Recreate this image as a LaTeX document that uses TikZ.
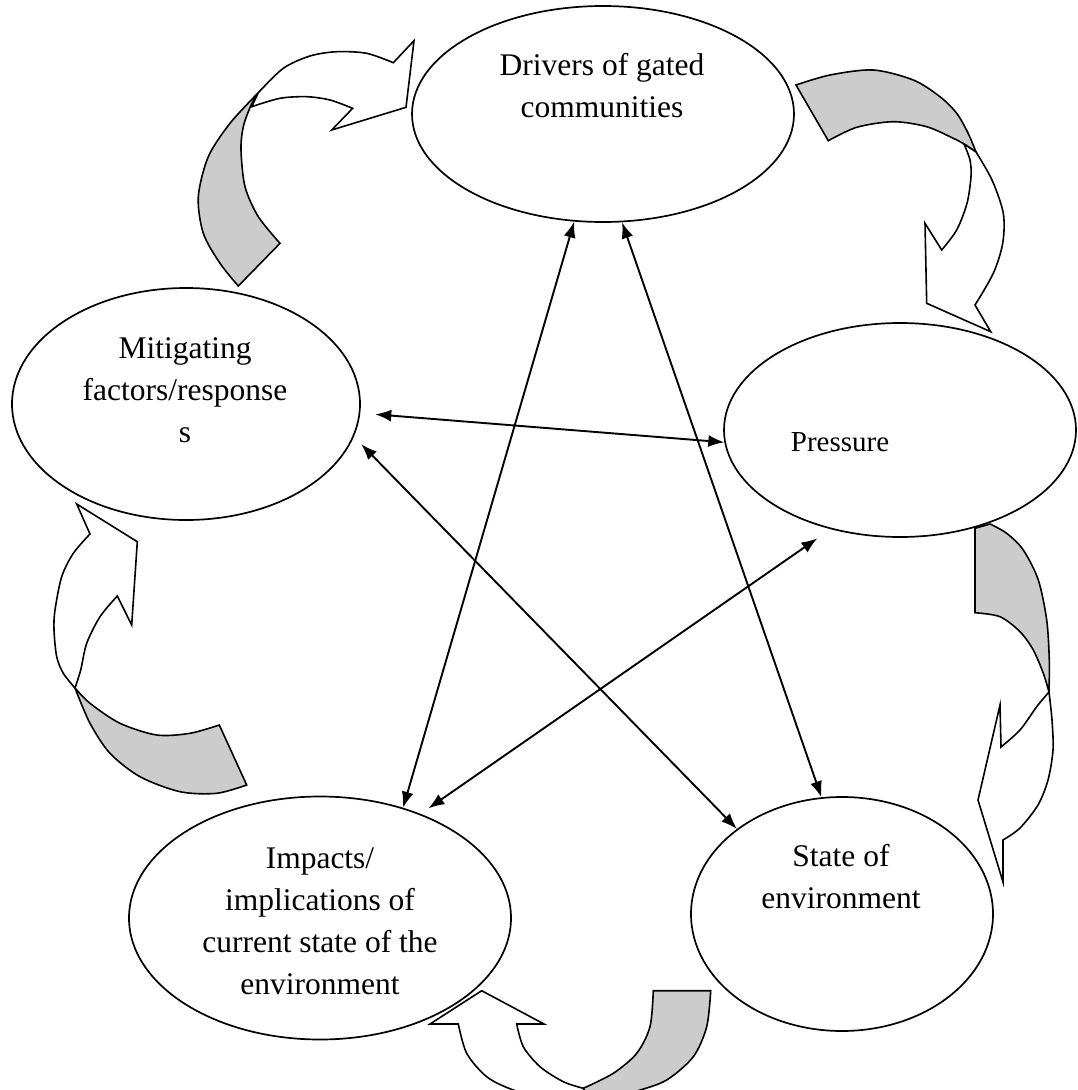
\documentclass[tikz,border=0pt]{standalone}
\usepackage{fontspec}
\setmainfont{Liberation Serif}
\usepackage{tikz}
\usetikzlibrary{shapes.geometric,arrows.meta}
\definecolor{bandgray}{RGB}{204,204,204}

\begin{document}
\begin{tikzpicture}[
  x=1pt, y=-1pt,
  stage/.style={draw, ellipse, line width=1.7pt, fill=white, inner sep=0pt},
  caption/.style={align=center, inner sep=0pt, font=\fontsize{31.5}{42}\selectfont},
  link/.style={<->, >={Latex[length=16pt,width=12pt]}, line width=1.9pt},
  band/.style={fill=bandgray, draw, line width=1.6pt, line join=miter},
  front/.style={fill=white, draw, line width=1.6pt, line join=miter}
]
\useasboundingbox (0,0) rectangle (1077,1090);

% the five stages
\node[stage, minimum width=382pt, minimum height=216pt] (drv) at (603,114) {};
\node[stage, minimum width=348pt, minimum height=232pt] (mit) at (186,404) {};
\node[stage, minimum width=352pt, minimum height=214pt] (prs) at (900,430) {};
\node[stage, minimum width=382pt, minimum height=243pt] (imp) at (320,918) {};
\node[stage, minimum width=302pt, minimum height=234pt] (ste) at (842,914) {};

\node[caption] (drvtxt) at (602,86) {Drivers of gated\\communities};
\node[caption] (mittxt) at (185,390) {Mitigating\\factors/response\\s};
\node[caption, font=\fontsize{29}{38}\selectfont] (prstxt) at (840,442) {Pressure};
\node[caption] (imptxt) at (320,921) {Impacts/\\implications of\\current state of the\\environment};
\node[caption] (stetxt) at (841,877) {State of\\environment};

% links between the stages
\draw[link] (drv.255) -- (imp.53.5);
\draw[link] (drv.280) -- (ste.100.6);
\draw[link, shorten <=15pt] (mit.-3.3) -- (prs.184.2);
\draw[link, shorten <=10.5pt] (mit.-11.4) -- (ste.141.6);
\draw[link, shorten <=9.5pt, shorten >=16pt] (imp.46.8) -- (prs.235.2);

% curved arrows round the cycle
\begin{scope}
\clip (0,0) rectangle (1077,1090);
% mitigating -> drivers
\draw[band] (238.3,286) -- (280,243.3)
  -- plot[smooth] coordinates {(280,243.3) (258.3,216.7) (245,186.7) (241,150) (243.3,126.7) (250.7,106) (258.3,92.7)}
  -- plot[smooth] coordinates {(258.3,92.7) (230,123.3) (208.3,156.7) (198.3,196.7) (203.3,233.3) (220,263.3) (238.3,286)}
  -- cycle;
\draw[front] (258.3,92.7)
  -- plot[smooth] coordinates {(258.3,92.7) (283.3,68.3) (310,56) (336.7,51.7) (366.7,53.3) (393.3,62.7)}
  -- (414,40.7) -- (406,107.3) -- (331.7,130) -- (352.7,108.3)
  -- plot[smooth] coordinates {(352.7,108.3) (330,100) (306.7,96.7) (280,98.3) (251.7,106.7)}
  -- cycle;
% drivers -> pressure
\draw[band] (796,85)
  -- plot[smooth] coordinates {(796,85) (830,75) (873.3,70) (913.3,80) (940,96.7) (956.7,113.3) (968,133) (976,152)}
  -- plot[smooth] coordinates {(976,152) (964,144) (953.3,138.3) (926.7,126.7) (893.3,121.7) (856.7,127.3) (828.3,140.7)}
  -- cycle;
\draw[front] (976,152)
  -- plot[smooth] coordinates {(976,152) (992,180) (1003.3,213.3) (1002.7,243.3) (993.3,273.3) (975,305)}
  -- (990.7,331.7) -- (926.7,303.3) -- (925,223.3) -- (941.7,250)
  -- plot[smooth] coordinates {(941.7,250) (956.7,230) (967,203.3) (971,176.7) (970,160) (964,144)}
  -- cycle;
% pressure -> state
\draw[band] (975,528.3) -- (975,612.7)
  -- plot[smooth] coordinates {(975,612.7) (1000,616.7) (1020,631.7) (1033.3,650) (1043.3,673.3) (1049,692)}
  -- plot[smooth] coordinates {(1049,692) (1049.3,660) (1046.7,620) (1038.3,580) (1023.3,550) (1006.7,533.3) (990,524)}
  -- cycle;
\draw[front] (1049,692)
  -- plot[smooth] coordinates {(1049,692) (1052,720) (1053,750) (1048,780) (1038,805) (1020,828) (1003,840)}
  -- (1003,882) -- (978,800) -- (1000,705) -- (1001,747)
  -- plot[smooth] coordinates {(1001,747) (1020,730) (1036.7,706.7) (1049,692)}
  -- cycle;
% state -> impacts
\draw[band] (653.3,990.7) -- (710.7,990.7)
  -- plot[smooth] coordinates {(710.7,990.7) (706.7,1026.7) (693.3,1056.7) (666.7,1080) (636.7,1091) (600,1100)}
  -- (590,1105) -- (583.3,1088.3)
  -- plot[smooth] coordinates {(583.3,1088.3) (613.3,1073.3) (636.7,1053.3) (650,1026.7) (653.3,990.7)}
  -- cycle;
\draw[front] (458.3,1024) -- (430,1024) -- (481.7,990.7) -- (544,1024) -- (516.7,1024)
  -- plot[smooth] coordinates {(516.7,1024) (523.3,1046.7) (540,1066.7) (563.3,1081.7) (583.3,1088.3)}
  -- (590,1105) -- (560,1104)
  -- plot[smooth] coordinates {(560,1104) (513.3,1090) (486.7,1076.7) (466.7,1053.3) (458.3,1024)}
  -- cycle;
% impacts -> mitigating
\draw[band] (219.3,725) -- (246.7,785)
  -- plot[smooth] coordinates {(246.7,785) (216.7,793.3) (180,791.7) (140,776.7) (110,753.3) (90,723.3) (75,688)}
  -- plot[smooth] coordinates {(75,688) (90,703.3) (120,723.3) (156.7,735) (190,733.3) (219.3,725)}
  -- cycle;
\draw[front] (75,688)
  -- plot[smooth] coordinates {(75,688) (63.3,673.3) (56.7,656.7) (54,630) (55,610) (61.7,576.7) (73.3,553.3) (90,534)}
  -- (76.7,504) -- (137.3,541.7) -- (131.7,625) -- (117.3,596)
  -- plot[smooth] coordinates {(117.3,596) (100,616.7) (86.7,643.3) (80.7,670) (75,688)}
  -- cycle;
\end{scope}
\end{tikzpicture}
\end{document}
